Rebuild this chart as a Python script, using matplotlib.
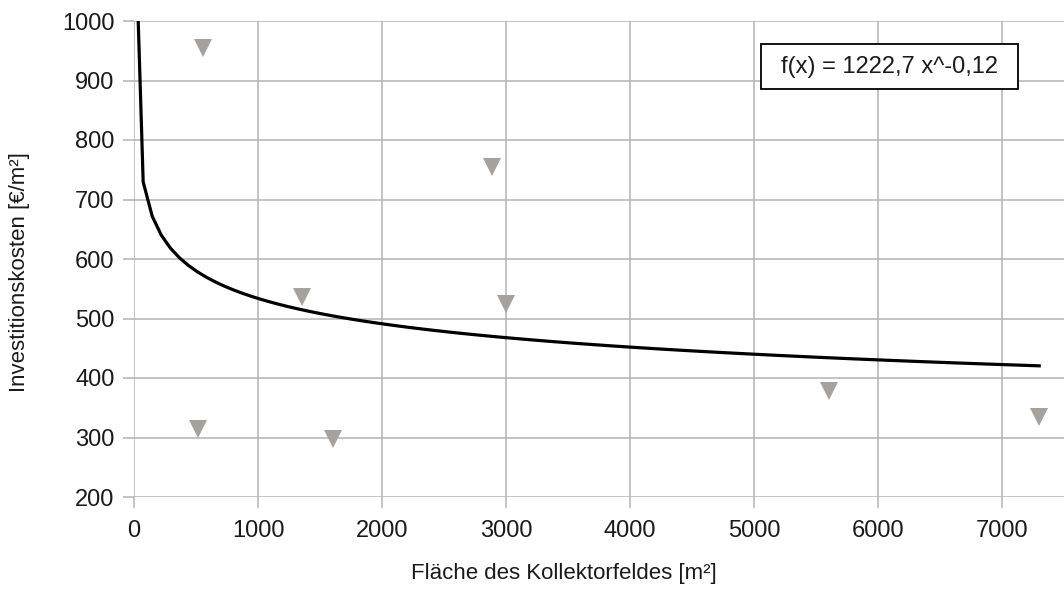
import numpy as np
import matplotlib
matplotlib.use("Agg")
import matplotlib.pyplot as plt
from matplotlib.patches import Rectangle

plt.rcParams['font.family'] = ['Liberation Sans', 'DejaVu Sans']

# Kollektorfläche [m²] und spezifische Investitionskosten [€/m²]
flaeche = [553, 516, 1351, 1604, 2887, 3003, 5603, 7300]
kosten = [955, 315, 536, 297, 754, 524, 378, 335]

# Potenz-Trendlinie f(x) = a * x^b
coef_a = 1222.7
coef_b = -0.12
trend_label = "f(x) = 1222,7 x^-0,12"

x_ticks = [0, 1000, 2000, 3000, 4000, 5000, 6000, 7000]
y_ticks = [200, 300, 400, 500, 600, 700, 800, 900, 1000]

fig = plt.figure(figsize=(10.64, 5.90), dpi=100)
ax = fig.add_axes([134 / 1064, 93 / 590, (1064 - 134) / 1064, (497 - 21) / 590])

grid_col = "#b3b3b3"
text_col = "#1a1a1a"
ax.set_xlim(0, 7500)
ax.set_ylim(200, 1000)
ax.set_xticks(x_ticks)
ax.set_yticks(y_ticks)
ax.grid(True, color=grid_col, linewidth=1.1)
ax.set_axisbelow(True)
for s in ax.spines.values():
    s.set_visible(False)
ax.tick_params(axis="both", colors=grid_col, labelcolor=text_col,
               labelsize=17, length=8, width=1.1, direction="out")
ax.tick_params(axis="x", pad=8.5)
ax.tick_params(axis="y", pad=6)

# Trendlinie
x_fit = np.linspace(1, max(flaeche), 101)
y_fit = coef_a * x_fit ** coef_b
ax.plot(x_fit, y_fit, color="black", linewidth=2.3, zorder=3)

# Messpunkte
ax.plot(flaeche, kosten, linestyle="none", marker="v", markersize=13,
        color="#a6a19c", markeredgewidth=0, zorder=4, clip_on=False)

# Gleichung der Trendlinie im Rahmen
ax.add_patch(Rectangle((0.6742, 0.857), 0.2763, 0.0947, transform=ax.transAxes,
                       facecolor="white", edgecolor="black", linewidth=1.3,
                       zorder=5))
ax.text(0.8124, 0.9044, trend_label, transform=ax.transAxes, fontsize=17,
        color=text_col, ha="center", va="center", zorder=6)

fig.text(564 / 1064, 1 - 574 / 590, "Fläche des Kollektorfeldes [m²]",
         fontsize=16, color=text_col, ha="center", va="center")
fig.text(20 / 1064, 1 - 272 / 590, "Investitionskosten [€/m²]",
         fontsize=16, color=text_col, ha="center", va="center",
         rotation=90)

fig.savefig("out.png", dpi=100, facecolor="white")
